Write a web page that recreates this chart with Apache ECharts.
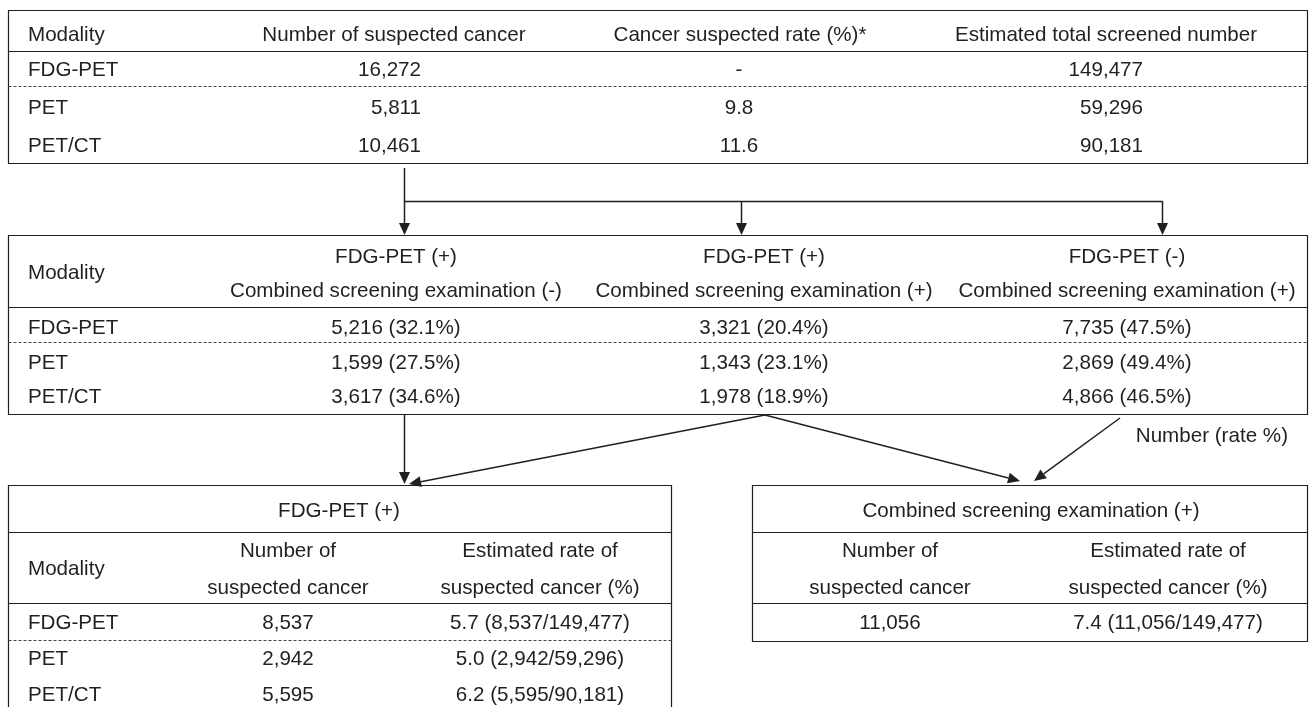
<!DOCTYPE html>
<html>
<head>
<meta charset="utf-8">
<script src="https://cdn.jsdelivr.net/npm/echarts@6/dist/echarts.min.js"></script>
<style>
  html, body { margin: 0; padding: 0; background: #fff; }
  #main { width: 1309px; height: 707px; }
</style>
</head>
<body>
<div id="main"></div>
<script>
const modalities = ['FDG-PET', 'PET', 'PET/CT']

// top table
const topHeaders = ['Modality', 'Number of suspected cancer', 'Cancer suspected rate (%)*', 'Estimated total screened number']
const suspectedNum = [16272, 5811, 10461]
const suspectedRate = [null, 9.8, 11.6]
const screenedNum = [149477, 59296, 90181]

// middle table
const groupTop = ['FDG-PET (+)', 'FDG-PET (+)', 'FDG-PET (-)']
const groupBottom = ['Combined screening examination (-)', 'Combined screening examination (+)', 'Combined screening examination (+)']
const petPosComboNeg = [5216, 1599, 3617]
const petPosComboNegPct = [32.1, 27.5, 34.6]
const petPosComboPos = [3321, 1343, 1978]
const petPosComboPosPct = [20.4, 23.1, 18.9]
const petNegComboPos = [7735, 2869, 4866]
const petNegComboPosPct = [47.5, 49.4, 46.5]
const noteText = 'Number (rate %)'

// bottom tables
const petPosTitle = 'FDG-PET (+)'
const comboPosTitle = 'Combined screening examination (+)'
const resultHeaders = [['Number of', 'suspected cancer'], ['Estimated rate of', 'suspected cancer (%)']]
const petPosNum = [8537, 2942, 5595]
const petPosRate = [5.7, 5.0, 6.2]
const comboPosNum = [11056]
const comboPosRate = [7.4]

const ink = '#231f20'
const font = '20.6px "Liberation Sans", Arial, sans-serif'
const elements = []

function fmt(n) {
  return n.toLocaleString('en-US')
}

function text(x, y, str, align) {
  align = align || 'center'
  elements.push({
    type: 'text', silent: true,
    style: { x: x, y: y + 1, text: str, font: font, fill: ink, align: align, verticalAlign: 'middle', textAlign: align, textVerticalAlign: 'middle' }
  })
}

function line(x1, y1, x2, y2, w, dashed) {
  elements.push({
    type: 'line', silent: true,
    shape: { x1: x1, y1: y1, x2: x2, y2: y2 },
    style: dashed
      ? { stroke: '#444', lineWidth: 1, lineDash: [3, 2] }
      : { stroke: ink, lineWidth: w || 1.2 }
  })
}

function box(x1, y1, x2, y2) {
  elements.push({
    type: 'rect', silent: true,
    shape: { x: x1, y: y1, width: x2 - x1, height: y2 - y1 },
    style: { fill: 'none', stroke: ink, lineWidth: 1.2 }
  })
}

function arrow(x1, y1, x2, y2) {
  const len = Math.hypot(x2 - x1, y2 - y1)
  const ux = (x2 - x1) / len, uy = (y2 - y1) / len
  const bx = x2 - ux * 12, by = y2 - uy * 12
  line(x1, y1, bx, by, 1.5)
  elements.push({
    type: 'polygon', silent: true,
    shape: { points: [[x2, y2], [bx - uy * 5.5, by + ux * 5.5], [bx + uy * 5.5, by - ux * 5.5]] },
    style: { fill: ink }
  })
}

// ---- table 1
const L = 8.5, R = 1307.5
box(L, 10.5, R, 163.5)
line(L, 51.5, R, 51.5)
line(L, 86.5, R, 86.5, 1, true)
text(28, 34, topHeaders[0], 'left')
text(394, 34, topHeaders[1])
text(740, 34, topHeaders[2])
text(1106, 34, topHeaders[3])
const rows1 = [69, 107, 145]
modalities.forEach((m, i) => {
  text(28, rows1[i], m, 'left')
  text(421, rows1[i], fmt(suspectedNum[i]), 'right')
  text(739, rows1[i], suspectedRate[i] == null ? '-' : suspectedRate[i].toFixed(1))
  text(1143, rows1[i], fmt(screenedNum[i]), 'right')
})

// connectors 1 -> 2
line(404.5, 168, 404.5, 201.5, 1.5)
line(404.5, 201.5, 1162.5, 201.5, 1.5)
arrow(404.5, 201, 404.5, 235)
arrow(741.5, 201, 741.5, 235)
arrow(1162.5, 201, 1162.5, 235)

// ---- table 2
box(L, 235.5, R, 414.5)
line(L, 307.5, R, 307.5)
line(L, 342.5, R, 342.5, 1, true)
const cols2 = [396, 764, 1127]
text(28, 272, 'Modality', 'left')
cols2.forEach((x, j) => {
  text(x, 256, groupTop[j])
  text(x, 290, groupBottom[j])
})
const rows2 = [327, 362, 396]
modalities.forEach((m, i) => {
  text(28, rows2[i], m, 'left')
  text(cols2[0], rows2[i], fmt(petPosComboNeg[i]) + ' (' + petPosComboNegPct[i].toFixed(1) + '%)')
  text(cols2[1], rows2[i], fmt(petPosComboPos[i]) + ' (' + petPosComboPosPct[i].toFixed(1) + '%)')
  text(cols2[2], rows2[i], fmt(petNegComboPos[i]) + ' (' + petNegComboPosPct[i].toFixed(1) + '%)')
})

// connectors 2 -> 3/4
arrow(404.5, 415, 404.5, 484)
arrow(765, 415, 409, 484)
arrow(765, 415, 1020, 481)
arrow(1120, 418, 1034, 481)
text(1288, 435, noteText, 'right')

// ---- table 3 (FDG-PET +)
box(L, 485.5, 671.5, 720)
line(L, 532.5, 671.5, 532.5)
line(L, 603.5, 671.5, 603.5)
line(L, 640.5, 671.5, 640.5, 1, true)
text(339, 510, petPosTitle)
text(28, 568, 'Modality', 'left')
const cols3 = [288, 540]
resultHeaders.forEach((h, j) => {
  text(cols3[j], 550, h[0])
  text(cols3[j], 587, h[1])
})
const rows3 = [622, 658, 694]
modalities.forEach((m, i) => {
  text(28, rows3[i], m, 'left')
  text(cols3[0], rows3[i], fmt(petPosNum[i]))
  text(cols3[1], rows3[i], petPosRate[i].toFixed(1) + ' (' + fmt(petPosNum[i]) + '/' + fmt(screenedNum[i]) + ')')
})

// ---- table 4 (combined +)
box(752.5, 485.5, R, 641.5)
line(752.5, 532.5, R, 532.5)
line(752.5, 603.5, R, 603.5)
text(1031, 510, comboPosTitle)
const cols4 = [890, 1168]
resultHeaders.forEach((h, j) => {
  text(cols4[j], 550, h[0])
  text(cols4[j], 587, h[1])
})
comboPosNum.forEach((n, i) => {
  text(cols4[0], 622, fmt(n))
  text(cols4[1], 622, comboPosRate[i].toFixed(1) + ' (' + fmt(n) + '/' + fmt(screenedNum[0]) + ')')
})

const chart = echarts.init(document.getElementById('main'))
chart.setOption({
  animation: false,
  backgroundColor: '#fff',
  graphic: { elements: elements }
})
</script>
</body>
</html>
